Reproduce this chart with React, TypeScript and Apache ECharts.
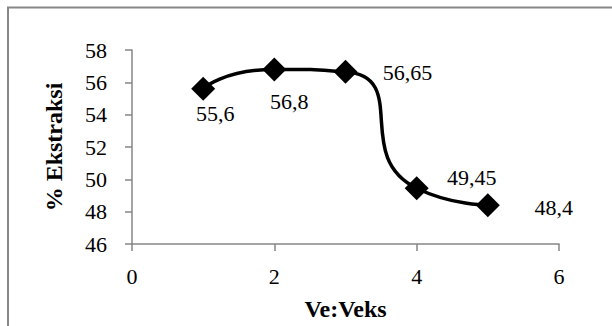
import React, { useEffect, useRef } from "react";
import * as echarts from "echarts";

const xValues = [1, 2, 3, 4, 5];
const yValues = [55.6, 56.8, 56.65, 49.45, 48.4];
const labelTexts = ["55,6", "56,8", "56,65", "49,45", "48,4"];
const xTicks = [0, 2, 4, 6];
const yTicks = [46, 48, 50, 52, 54, 56, 58];
const labelOffsets = [
  [12, 25],
  [15, 32],
  [62, 1],
  [55, -11],
  [66, 2],
];

const FONT = "Liberation Serif, serif";

export default function App() {
  const ref = useRef<HTMLDivElement>(null);
  useEffect(() => {
    const chart = echarts.init(ref.current!, null, { renderer: "svg" });
    const axisLine = { show: true, lineStyle: { color: "#868686", width: 1.5 } };
    const axisTick = { show: true, length: 7, lineStyle: { color: "#868686", width: 1.5 } };
    chart.setOption({
      animation: false,
      backgroundColor: "#fff",
      textStyle: { fontFamily: FONT },
      graphic: [
        {
          type: "rect",
          shape: { x: 8, y: 7.5, width: 700, height: 400 },
          style: { fill: "none", stroke: "#888", lineWidth: 2 },
          z: -1,
        },
      ],
      grid: { left: 132, right: 53, top: 50, bottom: 76, containLabel: false },
      xAxis: {
        type: "value",
        min: xTicks[0],
        max: xTicks[xTicks.length - 1],
        interval: 2,
        name: "Ve:Veks",
        nameLocation: "middle",
        nameGap: 53,
        nameTextStyle: { fontFamily: FONT, fontWeight: "bold", fontSize: 24, color: "#000" },
        axisLine,
        axisTick,
        axisLabel: { fontFamily: FONT, fontSize: 22, color: "#000", margin: 21 },
        splitLine: { show: false },
      },
      yAxis: {
        type: "value",
        min: yTicks[0],
        max: yTicks[yTicks.length - 1],
        interval: 2,
        name: "% Ekstraksi",
        nameLocation: "middle",
        nameGap: 66,
        nameTextStyle: { fontFamily: FONT, fontWeight: "bold", fontSize: 24, color: "#000" },
        axisLine,
        axisTick,
        axisLabel: { fontFamily: FONT, fontSize: 22, color: "#000", margin: 25 },
        splitLine: { show: false },
      },
      series: [
        {
          type: "line",
          smooth: 0.7,
          data: xValues.map((x, i) => ({
            value: [x, yValues[i]],
            label: {
              show: true,
              position: "inside",
              offset: labelOffsets[i],
              formatter: labelTexts[i],
            },
          })),
          symbol: "diamond",
          symbolSize: [24, 24],
          itemStyle: { color: "#000" },
          lineStyle: { color: "#000", width: 3.5 },
          label: { fontFamily: FONT, fontSize: 22, color: "#000" },
        },
      ],
    });
    return () => chart.dispose();
  }, []);
  return (
    <div
      ref={ref}
      style={{ position: "absolute", left: 0, top: 0, width: 612, height: 326 }}
    />
  );
}
